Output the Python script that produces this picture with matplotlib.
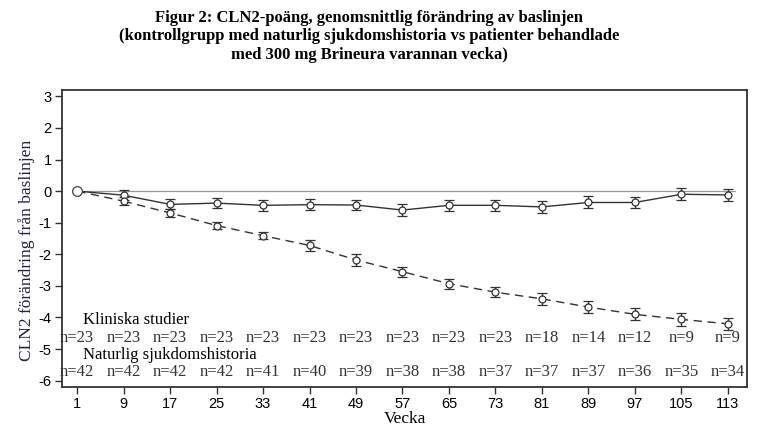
import matplotlib
matplotlib.use("Agg")
import matplotlib.pyplot as plt

plt.rcParams["axes.unicode_minus"] = False

# data
weeks = [1, 9, 17, 25, 33, 41, 49, 57, 65, 73, 81, 89, 97, 105, 113]

clin_mean = [0, -0.13, -0.42, -0.38, -0.45, -0.43, -0.44, -0.60, -0.45, -0.45, -0.50, -0.36, -0.36, -0.10, -0.12]
clin_err = [0, 0.15, 0.16, 0.17, 0.17, 0.18, 0.16, 0.19, 0.18, 0.18, 0.18, 0.19, 0.18, 0.19, 0.19]

nat_mean = [0, -0.32, -0.69, -1.09, -1.41, -1.72, -2.18, -2.55, -2.93, -3.20, -3.41, -3.67, -3.90, -4.06, -4.20]
nat_err = [0, 0.12, 0.13, 0.12, 0.12, 0.17, 0.18, 0.16, 0.16, 0.16, 0.18, 0.18, 0.19, 0.20, 0.19]

clin_n = [23, 23, 23, 23, 23, 23, 23, 23, 23, 23, 18, 14, 12, 9, 9]
nat_n = [42, 42, 42, 42, 41, 40, 39, 38, 38, 37, 37, 37, 36, 35, 34]

serif = "Liberation Serif"
sans = "Liberation Sans"

fig = plt.figure(figsize=(7.77, 4.4), dpi=100)
ax = fig.add_axes([62 / 777, 1 - 387 / 440, 685 / 777, 297 / 440])

# reference line at zero
ax.plot([1, 114.3], [0, 0], color="#999999", lw=0.9, zorder=1)

ax.errorbar(weeks[1:], clin_mean[1:], yerr=clin_err[1:], color="#333333", lw=1.0,
            ls="-", marker="o", ms=5, mfc="white", mec="#333333", mew=0.9,
            capsize=3.5, elinewidth=1.0, zorder=3)
ax.errorbar(weeks[1:], nat_mean[1:], yerr=nat_err[1:], color="#333333", lw=1.0,
            ls=(0, (6, 4)), marker="o", ms=5, mfc="white", mec="#333333", mew=0.9,
            capsize=3.5, elinewidth=1.0, zorder=3)
# connect baseline to first visit
ax.plot(weeks[:2], clin_mean[:2], color="#333333", lw=1.0, zorder=2)
ax.plot(weeks[:2], nat_mean[:2], color="#333333", lw=1.0, ls=(0, (6, 4)), zorder=2)
ax.plot([weeks[0]], [0], marker="o", ms=7, mfc="white", mec="#444444", mew=0.9, zorder=4)

ax.set_xlim(-1.6, 116.3)
ax.set_ylim(-6.2, 3.2)
ax.set_xticks(weeks)
ax.set_yticks(range(-6, 4))
ax.tick_params(direction="out", length=5, width=1, color="#333333", labelsize=10.5, pad=2.5)
for lab in ax.get_xticklabels() + ax.get_yticklabels():
    lab.set_fontfamily(sans)
for s in ax.spines.values():
    s.set_color("#333333")
    s.set_linewidth(1.3)

ax.text(2, -4.07, "Kliniska studier", family=serif, fontsize=12, va="center")
ax.text(2, -5.2, "Naturlig sjukdomshistoria", family=serif, fontsize=12, va="center")
for w, a, b in zip(weeks, clin_n, nat_n):
    ax.text(w, -4.64, f"n={a}", family=serif, fontsize=12, ha="center", va="center", color="#333333")
    ax.text(w, -5.74, f"n={b}", family=serif, fontsize=12, ha="center", va="center", color="#333333")

ax.set_xlabel("Vecka", family=serif, fontsize=12.5, labelpad=0)
ax.set_ylabel("CLN2 förändring från baslinjen", family=serif, fontsize=12.5, color="#222244")
ax.yaxis.set_label_coords(-0.039, 0.46)

fig.text(0.475, 0.978, "Figur 2: CLN2-poäng, genomsnittlig förändring av baslinjen\n"
         "(kontrollgrupp med naturlig sjukdomshistoria vs patienter behandlade\n"
         "med 300 mg Brineura varannan vecka)",
         family=serif, weight="bold", fontsize=12, ha="center", va="top", linespacing=1.22)

fig.savefig("out.png", dpi=100)
